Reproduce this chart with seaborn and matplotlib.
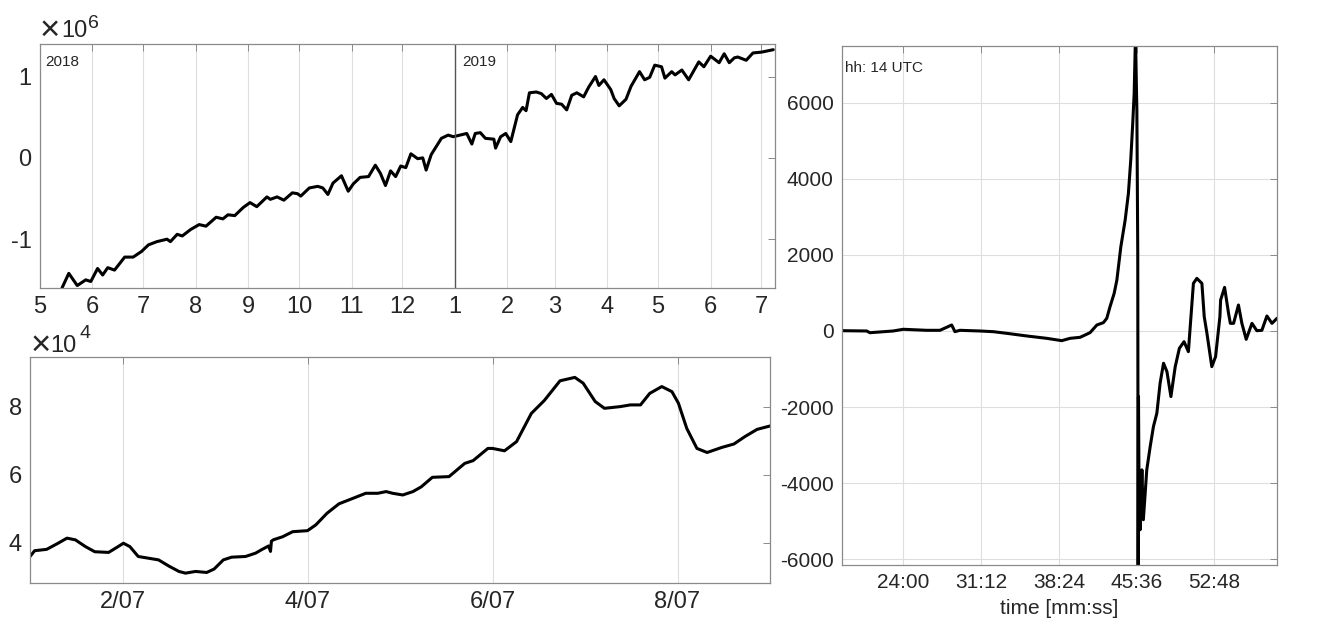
import numpy as np
import pandas as pd
import matplotlib
matplotlib.use("Agg")
import matplotlib.pyplot as plt
import matplotlib.dates as mdates
import matplotlib.ticker as tkr
import seaborn as sns

# top-left panel: days since 2018-05-01, values in units of 1e6
top_days = [13, 17, 22, 27, 30, 34, 37, 40, 44, 50,
            55, 60, 64, 69, 75, 77, 81, 84, 89, 94,
            98, 104, 108, 111, 115, 120, 124, 128, 134, 136,
            140, 144, 149, 152, 154, 159, 164, 167, 170, 173,
            178, 182, 185, 189, 194, 198, 201, 204, 207, 210,
            213, 216, 219, 223, 226, 228, 231, 234, 237, 241,
            244, 252, 255, 257, 260, 263, 268, 269, 272, 275,
            278, 282, 285, 287, 289, 293, 296, 299, 302, 305,
            308, 311, 314, 317, 321, 324, 328, 330, 333, 337,
            339, 342, 346, 349, 354, 357, 360, 363, 367, 369,
            373, 375, 379, 383, 389, 392, 396, 401, 404, 407,
            410, 412, 417, 421, 426, 433]
top_vals = [-1.60, -1.42, -1.57, -1.50, -1.52, -1.36, -1.44, -1.35, -1.38, -1.22,
            -1.22, -1.15, -1.07, -1.03, -1.00, -1.03, -0.94, -0.96, -0.88, -0.82,
            -0.84, -0.73, -0.75, -0.70, -0.71, -0.61, -0.55, -0.60, -0.48, -0.51,
            -0.48, -0.52, -0.43, -0.44, -0.47, -0.37, -0.35, -0.37, -0.45, -0.31,
            -0.22, -0.41, -0.32, -0.24, -0.23, -0.09, -0.19, -0.34, -0.16, -0.23,
            -0.10, -0.12, 0.05, -0.01, 0.00, -0.15, 0.04, 0.14, 0.24, 0.28,
            0.26, 0.30, 0.17, 0.30, 0.31, 0.24, 0.23, 0.12, 0.26, 0.30,
            0.20, 0.53, 0.62, 0.58, 0.80, 0.81, 0.79, 0.73, 0.78, 0.67,
            0.66, 0.59, 0.77, 0.80, 0.75, 0.87, 1.00, 0.89, 0.96, 0.84,
            0.73, 0.64, 0.72, 0.88, 1.06, 0.96, 0.99, 1.14, 1.12, 0.98,
            1.06, 1.02, 1.08, 0.96, 1.18, 1.12, 1.25, 1.17, 1.28, 1.17,
            1.23, 1.24, 1.20, 1.29, 1.30, 1.33]

# bottom-left panel: day of July (fractional), values in units of 1e4
bot_days = [1.00, 1.05, 1.18, 1.29, 1.40, 1.49, 1.60, 1.70, 1.85, 1.94,
            2.01, 2.08, 2.17, 2.28, 2.39, 2.50, 2.61, 2.68, 2.79, 2.91,
            2.99, 3.09, 3.18, 3.33, 3.44, 3.51, 3.58, 3.60, 3.61, 3.63,
            3.73, 3.84, 4.00, 4.09, 4.21, 4.34, 4.49, 4.63, 4.76, 4.85,
            4.92, 5.03, 5.14, 5.23, 5.35, 5.53, 5.70, 5.79, 5.95, 6.00,
            6.13, 6.26, 6.42, 6.56, 6.73, 6.89, 6.98, 7.11, 7.21, 7.38,
            7.49, 7.60, 7.70, 7.83, 7.94, 8.01, 8.10, 8.21, 8.32, 8.48,
            8.61, 8.73, 8.86, 9.00]
bot_vals = [3.60, 3.77, 3.81, 3.97, 4.14, 4.09, 3.89, 3.74, 3.72, 3.87,
            3.99, 3.89, 3.60, 3.55, 3.50, 3.32, 3.16, 3.11, 3.16, 3.13,
            3.23, 3.50, 3.58, 3.60, 3.70, 3.81, 3.91, 3.75, 4.05, 4.09,
            4.18, 4.33, 4.36, 4.53, 4.87, 5.15, 5.31, 5.46, 5.46, 5.51,
            5.46, 5.41, 5.51, 5.65, 5.93, 5.95, 6.34, 6.42, 6.78, 6.78,
            6.71, 6.98, 7.81, 8.19, 8.77, 8.87, 8.70, 8.16, 7.96, 8.01,
            8.06, 8.06, 8.40, 8.60, 8.45, 8.11, 7.37, 6.78, 6.66, 6.81,
            6.91, 7.13, 7.34, 7.44]

# right panel: seconds past 14:00 UTC
right_sec = [1098, 1237, 1255, 1384, 1440, 1570, 1644, 1709, 1727, 1755,
             1866, 1940, 2014, 2126, 2237, 2320, 2366, 2422, 2477, 2515,
             2551, 2570, 2588, 2611, 2626, 2648, 2672, 2690, 2703, 2714,
             2722, 2729, 2737, 2742, 2744, 2746, 2750, 2755, 2765, 2773,
             2792, 2811, 2829, 2848, 2866, 2885, 2904, 2926, 2950, 2973,
             2999, 3023, 3051, 3070, 3098, 3111, 3126, 3153, 3174, 3198,
             3202, 3224, 3246, 3256, 3274, 3301, 3320, 3344, 3376, 3403,
             3431, 3459, 3487, 3515]
right_vals = [8, 0, -45, 0, 45, 18, 18, 158, -18, 18,
              0, -18, -61, -131, -193, -254, -193, -166, -44, 158,
              219, 333, 639, 989, 1339, 2213, 2914, 3614, 4489, 5452,
              6239, 7700, 5801, 2047, -6400, -1724, -4875, -5224, -3649, -4961,
              -3649, -3037, -2512, -2161, -1373, -848, -1068, -1724, -937, -455,
              -280, -543, 1252, 1383, 1252, 376, -61, -937, -674, 376,
              814, 1147, 464, 201, 201, 683, 201, -219, 201, 8,
              18, 394, 201, 333]
right_ticks = [1440, 1872, 2304, 2736, 3168]

sns.set_theme(style="white")
plt.rcParams.update({
    "font.family": ["Liberation Sans", "DejaVu Sans"],
    "axes.unicode_minus": False,
    "xtick.direction": "in", "ytick.direction": "in",
    "xtick.top": True, "ytick.right": True,
    "xtick.major.size": 5, "ytick.major.size": 5,
    "xtick.major.width": 0.7, "ytick.major.width": 0.7,
    "axes.edgecolor": "#8a8a8a", "axes.linewidth": 0.9,
    "xtick.color": "#8a8a8a", "ytick.color": "#8a8a8a",
    "xtick.labelcolor": "#262626", "ytick.labelcolor": "#262626",
})

W, H = 1326, 627
fig = plt.figure(figsize=(W / 100, H / 100), dpi=100)

def box(x0, y0, x1, y1):
    return [x0 / W, 1 - y1 / H, (x1 - x0) / W, (y1 - y0) / H]

def sci_label(ax, power, offs):
    # MATLAB-style "x10^n" multiplier above the top-left corner
    ax.yaxis.set_major_formatter(tkr.FuncFormatter(lambda x, p: f"{x / 10 ** power:g}"))
    kw = dict(xy=(0, 1), xycoords="axes fraction", textcoords="offset pixels",
              ha="left", va="baseline", color="#262626")
    (x_dx, x_dy), (t_dx, t_dy), (e_dx, e_dy) = offs
    ax.annotate("\u00d7", xytext=(x_dx, x_dy), fontsize=25, **kw)
    ax.annotate("10", xytext=(t_dx, t_dy), fontsize=17, **kw)
    ax.annotate(str(power), xytext=(e_dx, e_dy), fontsize=14, **kw)

grid_col = "#dedede"
line_kw = dict(color="black", linewidth=2.2, estimator=None, legend=False)

# ---- top-left
ax1 = fig.add_axes(box(40, 44, 775, 288))
top_df = pd.DataFrame({
    "date": pd.Timestamp("2018-05-01") + pd.to_timedelta(top_days, unit="D"),
    "val": np.array(top_vals) * 1e6})
sns.lineplot(data=top_df, x="date", y="val", ax=ax1, **line_kw)
ax1.set_xlim(pd.Timestamp("2018-05-01"), pd.Timestamp("2019-07-09"))
ax1.set_ylim(-1.6e6, 1.4e6)
ax1.set_yticks([-1e6, 0, 1e6])
sci_label(ax1, 6, [(0, 4), (21, 7), (48, 16)])
ax1.xaxis.set_major_locator(mdates.MonthLocator())
ax1.xaxis.set_major_formatter(tkr.FuncFormatter(lambda x, p: str(mdates.num2date(x).month)))
ax1.grid(axis="x", color=grid_col, linewidth=0.8)
ax1.axvline(pd.Timestamp("2019-01-01"), color="#555555", linewidth=1.0)
ax1.tick_params(labelsize=17, pad=6)
ax1.text(0.007, 0.925, "2018", transform=ax1.transAxes, fontsize=11, va="center")
ax1.annotate("2019", xy=(pd.Timestamp("2019-01-01"), 0.925), xycoords=("data", "axes fraction"),
             xytext=(5, 0), textcoords="offset points", fontsize=11, va="center")
ax1.set_xlabel("")
ax1.set_ylabel("")

# ---- bottom-left
ax2 = fig.add_axes(box(30, 357, 770, 583))
bot_df = pd.DataFrame({
    "date": pd.Timestamp("2019-07-01") + pd.to_timedelta(np.array(bot_days) - 1, unit="D"),
    "val": np.array(bot_vals) * 1e4})
sns.lineplot(data=bot_df, x="date", y="val", ax=ax2, **line_kw)
ax2.set_xlim(pd.Timestamp("2019-07-01"), pd.Timestamp("2019-07-09"))
ax2.set_ylim(2.82e4, 9.47e4)
ax2.set_yticks([4e4, 6e4, 8e4])
sci_label(ax2, 4, [(1, 2), (20, 5), (49, 19)])
ax2.set_xticks(pd.to_datetime(["2019-07-02", "2019-07-04", "2019-07-06", "2019-07-08"]))
ax2.xaxis.set_major_formatter(mdates.DateFormatter("%-d/%m"))
ax2.grid(axis="x", color=grid_col, linewidth=0.8)
ax2.tick_params(labelsize=17, pad=6)
ax2.set_xlabel("")
ax2.set_ylabel("")

# ---- right
ax3 = fig.add_axes(box(842, 46, 1277, 565))
right_df = pd.DataFrame({"sec": right_sec, "val": right_vals})
sns.lineplot(data=right_df, x="sec", y="val", ax=ax3, sort=False, **line_kw)
ax3.set_xlim(1100, 3515)
ax3.set_ylim(-6150, 7490)
ax3.set_yticks([-6000, -4000, -2000, 0, 2000, 4000, 6000])
ax3.set_xticks(right_ticks)
ax3.xaxis.set_major_formatter(tkr.FuncFormatter(lambda x, p: f"{int(x) // 60:02d}:{int(x) % 60:02d}"))
ax3.yaxis.set_major_formatter(tkr.FuncFormatter(lambda x, p: f"{x:.0f}"))
ax3.grid(True, color=grid_col, linewidth=0.8)
ax3.tick_params(labelsize=15, pad=6)
ax3.set_xlabel("time [mm:ss]", fontsize=15, color="#262626", labelpad=5)
ax3.set_ylabel("")
ax3.text(0.008, 0.958, "hh: 14 UTC", transform=ax3.transAxes, fontsize=11, va="center")

for ax in (ax1, ax2, ax3):
    ax.set_axisbelow(True)

fig.savefig("out.png", dpi=100)
